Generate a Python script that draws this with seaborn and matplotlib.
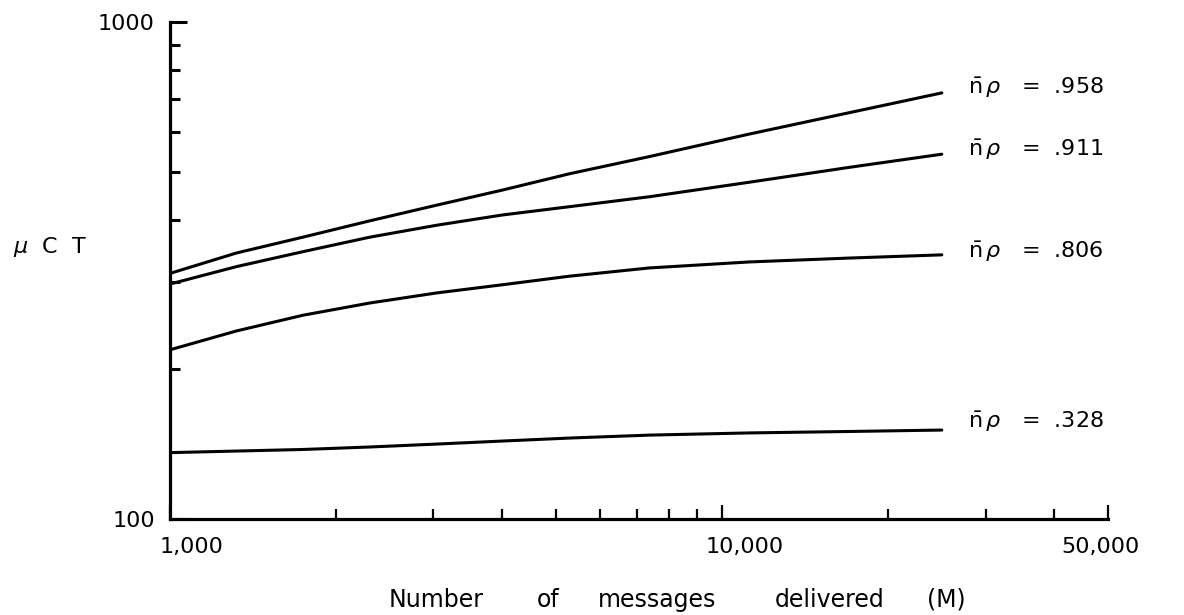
import numpy as np
import pandas as pd
import matplotlib
matplotlib.use("Agg")
import matplotlib.pyplot as plt
import matplotlib.transforms as mtransforms
from matplotlib.ticker import FixedLocator, NullFormatter
import seaborn as sns

# Number of messages delivered (M)
messages = [1000, 1320, 1740, 2300, 3040, 4000, 5290, 7380, 11200, 17000, 25000]

# muCT for each traffic level n-bar * rho
mct_958 = [312, 343, 369, 398, 428, 459, 495, 536, 595, 657, 720]
mct_911 = [297, 322, 345, 369, 390, 409, 425, 445, 476, 510, 542]
mct_806 = [219, 239, 257, 272, 285, 296, 308, 320, 329, 335, 340]
mct_328 = [136, 137, 138, 139.6, 141.5, 143.5, 145.5, 147.5, 149, 150, 151]

levels = [".958", ".911", ".806", ".328"]
series = [mct_958, mct_911, mct_806, mct_328]

x_major = [1000, 10000, 50000]
x_major_labels = ["1,000", "10,000", "50,000"]
x_minor = [2000, 3000, 4000, 5000, 6000, 7000, 8000, 9000, 20000, 30000, 40000]
y_major = [100, 1000]
y_major_labels = ["100", "1000"]
y_minor = [200, 300, 400, 500, 600, 700, 800, 900]

xlabel_words = ["Number", "of", "messages", "delivered", "(M)"]
xlabel_centers = [436, 548, 657, 830, 946]

rows = []
for lev, vals in zip(levels, series):
    for m, v in zip(messages, vals):
        rows.append({"M": m, "muCT": v, "level": lev})
df = pd.DataFrame(rows)

sns.set_style("ticks")
plt.rcParams["font.family"] = ["DejaVu Sans"]
plt.rcParams["text.color"] = "black"
plt.rcParams["xtick.color"] = "black"
plt.rcParams["ytick.color"] = "black"
plt.rcParams["axes.edgecolor"] = "black"

W, H = 1184, 615
fig = plt.figure(figsize=(W / 100, H / 100), dpi=100)
ax = fig.add_axes([170 / W, 1 - 519 / H, (1108 - 170) / W, (519 - 22) / H])

sns.lineplot(data=df, x="M", y="muCT", hue="level", hue_order=levels,
             palette=["black"] * 4, linewidth=2.2, legend=False, ax=ax,
             estimator=None, sort=True)

ax.set_xscale("log")
ax.set_yscale("log")
ax.set_xlim(1000, 50000)
ax.set_ylim(100, 1000)

# Axes frame: only left and bottom spines
for side in ["top", "right"]:
    ax.spines[side].set_visible(False)
for side in ["left", "bottom"]:
    ax.spines[side].set_linewidth(2.3)

ax.xaxis.set_major_locator(FixedLocator(x_major))
ax.xaxis.set_minor_locator(FixedLocator(x_minor))
ax.set_xticklabels(x_major_labels)
ax.xaxis.set_minor_formatter(NullFormatter())
ax.yaxis.set_major_locator(FixedLocator(y_major))
ax.yaxis.set_minor_locator(FixedLocator(y_minor))
ax.set_yticklabels(y_major_labels)
ax.yaxis.set_minor_formatter(NullFormatter())

ax.tick_params(axis="x", which="major", direction="in", length=10, width=1.6,
               labelsize=16, pad=13)
ax.tick_params(axis="x", which="minor", direction="in", length=7, width=1.6)
ax.tick_params(axis="y", which="major", direction="in", length=12, width=2.2,
               labelsize=16, pad=11)
ax.tick_params(axis="y", which="minor", direction="in", length=7, width=2.2)

# Nudge the x tick labels as lettered on the axis
shifts = [22, 23, -8]
for lbl, dx in zip(ax.get_xticklabels(), shifts):
    lbl.set_transform(lbl.get_transform() +
                      mtransforms.ScaledTranslation(dx / 100, 0, fig.dpi_scale_trans))

ax.set_xlabel("")
ax.set_ylabel("")

# Curve labels at the right-hand ends
offsets = [5, 4, 3, 8]
for lev, vals, dy in zip(levels, series, offsets):
    ax.annotate(r"$\bar{\mathrm{n}}\,\rho$   =  " + lev,
                xy=(messages[-1], vals[-1]), xytext=(19, dy * 0.72),
                textcoords="offset points", ha="left", va="center",
                fontsize=16)

fig.text(13 / W, 1 - 247 / H, r"$\mu$  C  T", fontsize=16,
         ha="left", va="center")

# Axis title, lettered word by word
for word, cx in zip(xlabel_words, xlabel_centers):
    fig.text(cx / W, 1 - 600 / H, word, fontsize=17, ha="center", va="center")

fig.savefig("out.png", dpi=100, facecolor="white")
